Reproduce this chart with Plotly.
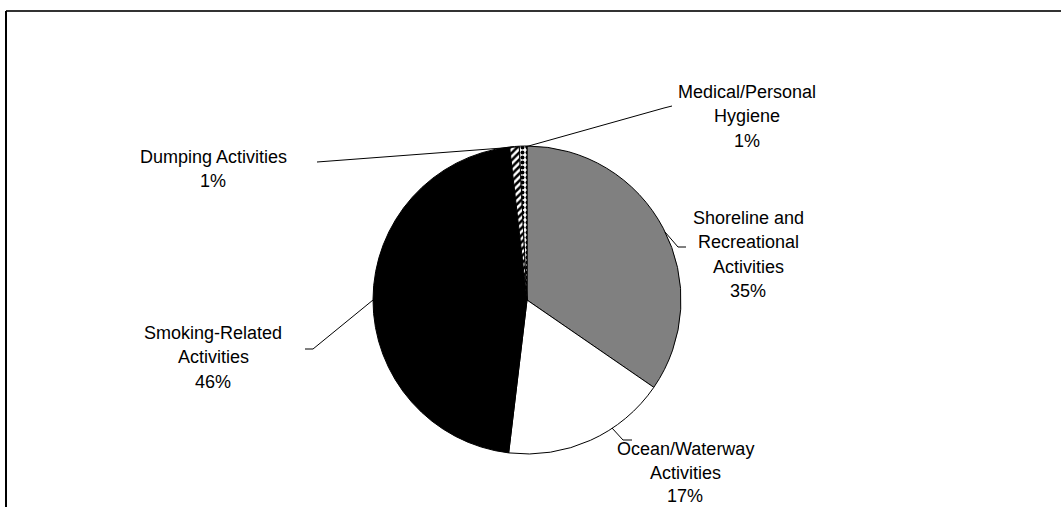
import plotly.graph_objects as go

W, H = 1061, 507

categories = ["Shoreline and Recreational Activities", "Ocean/Waterway Activities",
              "Smoking-Related Activities", "Dumping Activities", "Medical/Personal Hygiene"]
values = [34.6, 17.3, 46.3, 1.0, 0.8]
pct_labels = ["35%", "17%", "46%", "1%", "1%"]
label_lines = [["Shoreline and", "Recreational", "Activities"],
               ["Ocean/Waterway", "Activities"],
               ["Smoking-Related", "Activities"],
               ["Dumping Activities"],
               ["Medical/Personal", "Hygiene"]]

fill_colors = ["#808080", "#ffffff", "#000000", "#ffffff", "#ffffff"]
pattern_shapes = ["", "", "", "/", "."]

# label placement (pixel centre x, first-line centre y)
label_pos = [(748, 218), (685, 449), (213, 333), (213, 157), (747, 92)]
line_gaps = [24.3, 23.5, 24.3, 24.3, 24.3]
# leader line paths (pixels)
leaders = [[(665, 232), (678, 247), (686, 247)],
           [(612, 428), (623, 440), (632, 440)],
           [(373, 300), (313, 349), (305, 349)],
           [(516, 147), (317, 162)],
           [(525, 147), (664, 108), (672, 106)]]

def px(x):
    return x / W

def py(y):
    return 1 - y / H

fig = go.Figure(go.Pie(
    labels=categories, values=values, sort=False, direction="clockwise", rotation=0,
    textinfo="none", hoverinfo="label+percent",
    marker=dict(colors=fill_colors, line=dict(color="black", width=1),
                pattern=dict(shape=pattern_shapes, fgcolor="black", bgcolor="white",
                             size=5, solidity=0.5)),
    domain=dict(x=[px(373), px(681)], y=[py(454), py(146)]),
    showlegend=False,
))

annotations = []
for lines, pct, (cx, cy), gap in zip(label_lines, pct_labels, label_pos, line_gaps):
    for i, t in enumerate(lines + [pct]):
        annotations.append(dict(
            x=px(cx), y=py(cy + i * gap), xref="paper", yref="paper",
            text=t, showarrow=False, xanchor="center", yanchor="middle",
            font=dict(family="Liberation Sans, Arial", size=18, color="black")))

shapes = []
for path in leaders:
    d = "M " + " L ".join(f"{px(x)},{py(y)}" for x, y in path)
    shapes.append(dict(type="path", path=d, xref="paper", yref="paper",
                       line=dict(color="black", width=1)))
# chart frame (top and left visible)
shapes.append(dict(type="line", xref="paper", yref="paper", x0=px(6), x1=1, y0=py(11), y1=py(11),
                   line=dict(color="#333333", width=2)))
shapes.append(dict(type="line", xref="paper", yref="paper", x0=px(6), x1=px(6), y0=py(11), y1=0,
                   line=dict(color="black", width=2)))

fig.update_layout(width=W, height=H, autosize=False,
                  margin=dict(l=0, r=0, t=0, b=0),
                  paper_bgcolor="white", plot_bgcolor="white",
                  annotations=annotations, shapes=shapes)

fig.write_html("out.html")
